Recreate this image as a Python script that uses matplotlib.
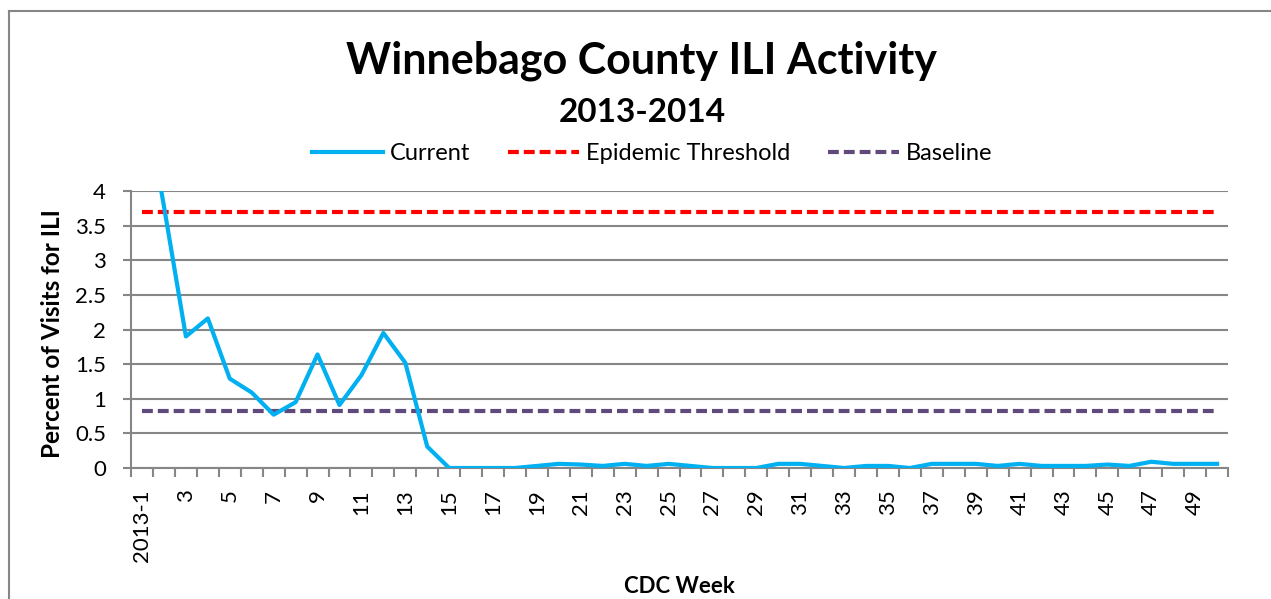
import matplotlib.pyplot as plt
from matplotlib.lines import Line2D

# CDC week categories (first one carries the year)
weeks = ["2013-1"] + [str(i) for i in range(2, 51)]

# percent of visits for ILI
current = [5.6, 3.78, 1.90, 2.16, 1.29, 1.09, 0.77, 0.95, 1.64, 0.91,
           1.34, 1.95, 1.52, 0.31, 0.0, 0.0, 0.0, 0.0, 0.03, 0.06,
           0.05, 0.03, 0.06, 0.03, 0.06, 0.03, 0.0, 0.0, 0.0, 0.06,
           0.06, 0.03, 0.0, 0.03, 0.03, 0.0, 0.06, 0.06, 0.06, 0.03,
           0.06, 0.03, 0.03, 0.03, 0.05, 0.03, 0.09, 0.06, 0.06, 0.06]
threshold = [3.7] * len(weeks)
baseline = [0.82] * len(weeks)

yticks = [0, 0.5, 1, 1.5, 2, 2.5, 3, 3.5, 4]
ytick_labels = ["0", "0.5", "1", "1.5", "2", "2.5", "3", "3.5", "4"]


def main():
    plt.rcParams['font.family'] = ['Lato', 'DejaVu Sans']
    fig = plt.figure(figsize=(12.71, 5.99), dpi=100)
    ax = fig.add_axes([0.1031, 0.2187, 0.8631, 0.4624])

    x = list(range(len(weeks)))
    grey = '#868686'
    dash = (0, (2.6, 1.2))

    ax.plot(x, current, color='#00B0F0', lw=3, label='Current',
            solid_joinstyle='round', zorder=4)
    ax.plot(x, threshold, color='#FF0000', lw=3, ls=dash,
            label='Epidemic Threshold', zorder=3)
    ax.plot(x, baseline, color='#604A7B', lw=3, ls=dash,
            label='Baseline', zorder=3)

    ax.set_xlim(-0.5, len(weeks) - 0.5)
    ax.set_ylim(0, 4)

    # labels on every other week, tick marks on category edges
    ax.set_xticks(x[::2])
    ax.set_xticklabels(weeks[::2], rotation=90, fontsize=16)
    ax.set_xticks([i - 0.5 for i in range(len(weeks) + 1)], minor=True)
    ax.tick_params(axis='x', which='major', length=0, pad=15.5)
    ax.tick_params(axis='x', which='minor', length=6.5, width=1.5,
                   color=grey, direction='out')

    ax.set_yticks(yticks)
    ax.set_yticklabels(ytick_labels, fontsize=16)
    ax.tick_params(axis='y', length=6, width=1.5, color=grey, pad=12)

    ax.grid(axis='y', color=grey, lw=1.5)
    ax.set_axisbelow(True)
    for side in ['top', 'right']:
        ax.spines[side].set_visible(False)
    for side in ['left', 'bottom']:
        ax.spines[side].set_color(grey)
        ax.spines[side].set_linewidth(1.5)

    ax.set_ylabel('Percent of Visits for ILI', fontsize=17.5,
                  fontweight='bold', va='center')
    ax.yaxis.set_label_coords(-0.072, 0.487)
    ax.set_xlabel('CDC Week', fontsize=16, fontweight='bold', va='baseline')
    ax.xaxis.set_label_coords(0.5, -0.451)

    fig.text(0.505, 0.8776, 'Winnebago County ILI Activity', fontsize=31,
             fontweight='bold', ha='center', va='baseline')
    fig.text(0.505, 0.7968, '2013-2014', fontsize=24, fontweight='bold',
             ha='center', va='baseline')

    fig.legend(loc='center', bbox_to_anchor=(0.513, 0.743), ncol=3,
               frameon=False, fontsize=17, handlelength=3.0,
               handletextpad=0.3, columnspacing=1.6)

    # chart area border (top and left visible in the crop)
    fig.add_artist(Line2D([0.0071, 1.0], [0.9816, 0.9816], color=grey,
                          lw=1.5, transform=fig.transFigure))
    fig.add_artist(Line2D([0.0071, 0.0071], [0.0, 0.9816], color=grey,
                          lw=1.5, transform=fig.transFigure))

    fig.savefig('out.png', dpi=100)


if __name__ == "__main__":
    main()
